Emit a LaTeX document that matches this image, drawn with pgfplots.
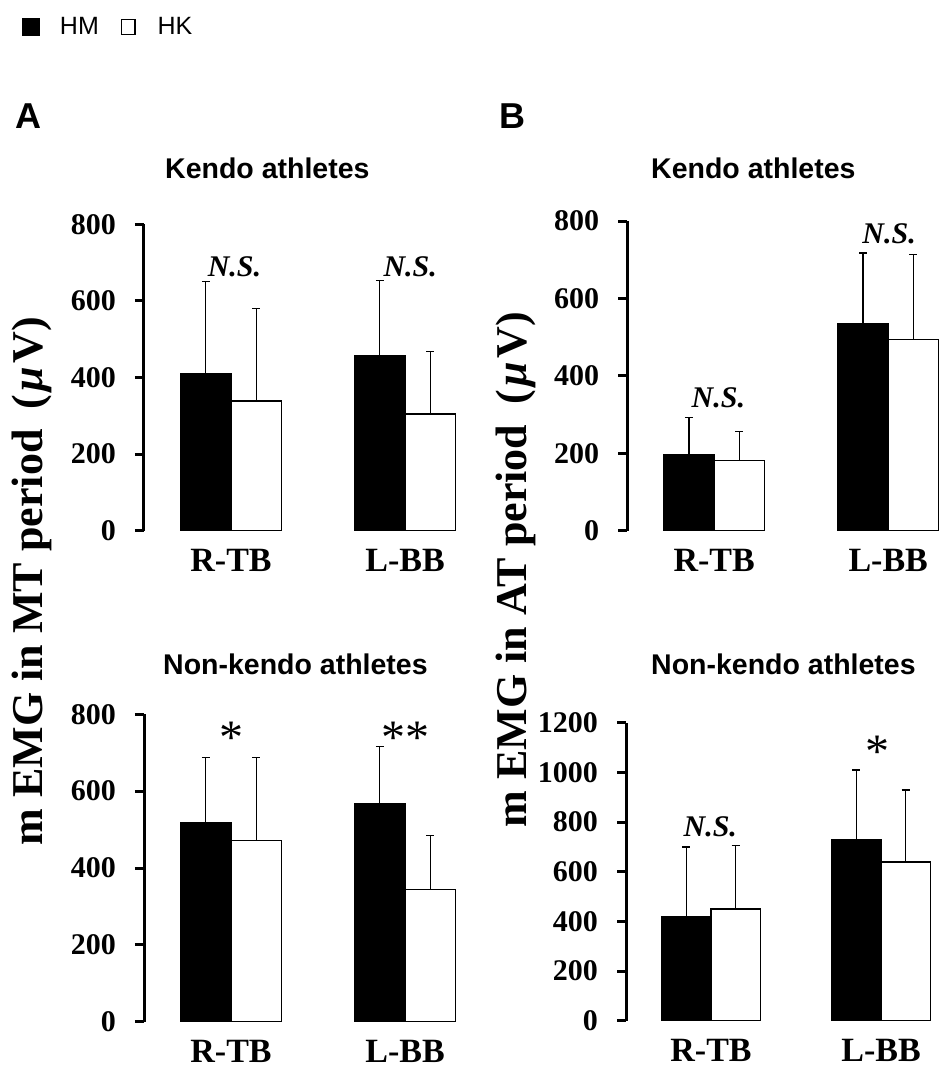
\documentclass[border=0pt]{standalone}
\usepackage{fontspec}
\setmainfont{Liberation Serif}
\newfontfamily\arial{Liberation Sans}
\usepackage{pgfplots}
\pgfplotsset{compat=1.18}
\pgfplotsset{
 panel/.style={
  scale only axis, anchor=south west,
  xmin=-0.5, xmax=1.29, ymin=0, clip=false,
  axis y line*=left, axis x line*=bottom,
  x axis line style={draw=none},
  y axis line style={line width=3pt, -},
  xtick={0,1}, xticklabels={R-TB,L-BB},
  xtick style={draw=none},
  tick align=outside,
  ytick style={line width=3pt, black},
  major tick length=9pt,
  /pgf/number format/assume math mode=true,
  /pgf/number format/1000 sep={},
  yticklabel style={font=\bfseries\fontsize{30}{36}\selectfont, inner sep=0pt, xshift=-19pt},
  xticklabel style={font=\bfseries\fontsize{34}{40}\selectfont, inner sep=0pt, yshift=-9pt},
  ybar, bar width=0.29,
 },
 errs/.style={bar shift=0pt, error bars/y dir=plus, error bars/y explicit,
   error bars/error bar style={line width=1.3pt, black},
   error bars/error mark options={rotate=90, line width=1.3pt, black, mark size=4pt}},
 hm/.style={fill=black, draw=black, line width=1pt, errs},
 hk/.style={fill=white, draw=black, line width=1.5pt, errs},
}
\tikzset{
 ns/.style={font=\bfseries\itshape\fontsize{30}{36}\selectfont, inner sep=0pt},
 st/.style={font=\fontsize{48}{54}\selectfont, inner sep=0pt},
}
\begin{document}
\begin{tikzpicture}
% ---- Panel A top
\begin{axis}[panel, at={(144pt,-530.7pt)}, width=311.5pt, height=306.4pt,
  ymax=800, ytick={0,200,...,800},
  legend style={at={(axis description cs:-0.3917,1.6439)}, anchor=west, draw=none, fill=none,
    inner sep=0pt, outer sep=0pt, legend columns=-1,
    font=\arial\fontsize{25}{30}\selectfont,
    /tikz/every even column/.append style={column sep=22pt}, nodes={inner sep=0pt}}]
\addplot[hm, legend image code/.code={\fill[black] (0pt,-8.5pt) rectangle (17pt,8.5pt); \path (37pt,0pt);}]
  coordinates {(-0.145,411) +- (0,240) (0.855,458) +- (0,196)};
\addlegendentry{HM}
\addplot[hk, legend image code/.code={\draw[draw=black, fill=white, line width=1.5pt] (0.75pt,-7.5pt) rectangle (14.25pt,7.5pt); \path (36pt,0pt);}]
  coordinates {(0.145,339) +- (0,241) (1.145,305) +- (0,162)};
\addlegendentry{HK}
\node[ns] at (axis cs:0.02,688) {N.S.};
\node[ns] at (axis cs:1.03,688) {N.S.};
\end{axis}
% ---- Panel B top
\begin{axis}[panel, at={(627.2pt,-530.7pt)}, width=311.5pt, height=309.7pt,
  ymax=800, ytick={0,200,...,800}]
\addplot[hm] coordinates {(-0.145,196) +- (0,96) (0.855,536) +- (0,181)};
\addplot[hk] coordinates {(0.145,181) +- (0,75) (1.145,494) +- (0,219)};
\node[ns] at (axis cs:0.024,343) {N.S.};
\node[ns] at (axis cs:1.005,766) {N.S.};
\end{axis}
% ---- Panel A bottom
\begin{axis}[panel, at={(144pt,-1021.7pt)}, width=311.5pt, height=307.4pt,
  ymax=800, ytick={0,200,...,800}]
\addplot[hm] coordinates {(-0.145,519) +- (0,168) (0.855,567) +- (0,149)};
\addplot[hk] coordinates {(0.145,471) +- (0,216) (1.145,344) +- (0,140)};
\node[st] at (axis cs:0,738) {*};
\node[st] at (axis cs:1,738) {**};
\end{axis}
% ---- Panel B bottom
\begin{axis}[panel, at={(626pt,-1020.7pt)}, width=304.3pt, height=298pt,
  ymax=1200, ytick={0,200,...,1200}]
\addplot[hm] coordinates {(-0.145,418) +- (0,281) (0.855,731) +- (0,279)};
\addplot[hk] coordinates {(0.145,449) +- (0,256) (1.145,640) +- (0,289)};
\node[ns] at (axis cs:-0.004,782) {N.S.};
\node[st] at (axis cs:0.98,1084) {*};
\end{axis}
% ---- texts
\node[font=\arial\bfseries\fontsize{36}{40}\selectfont, inner sep=0pt] at (28pt,-116pt) {A};
\node[font=\arial\bfseries\fontsize{36}{40}\selectfont, inner sep=0pt] at (512pt,-116pt) {B};
\node[anchor=west, font=\arial\bfseries\fontsize{28.5}{33}\selectfont, inner sep=0pt] at (165pt,-168pt) {Kendo athletes};
\node[anchor=west, font=\arial\bfseries\fontsize{28.5}{33}\selectfont, inner sep=0pt] at (651pt,-168pt) {Kendo athletes};
\node[anchor=west, font=\arial\bfseries\fontsize{28.5}{33}\selectfont, inner sep=0pt] at (163pt,-664pt) {Non-kendo athletes};
\node[anchor=west, font=\arial\bfseries\fontsize{28.5}{33}\selectfont, inner sep=0pt] at (651pt,-664pt) {Non-kendo athletes};
\node[rotate=90, font=\bfseries\fontsize{44}{50}\selectfont, inner sep=0pt] at (32pt,-581pt)
  {m EMG in MT period\hspace{20pt}(\hspace{3pt}\textit{μ}\hspace{4pt}V)};
\node[rotate=90, font=\bfseries\fontsize{44}{50}\selectfont, inner sep=0pt] at (516pt,-569.5pt)
  {m EMG in AT period\hspace{20pt}(\hspace{3pt}\textit{μ}\hspace{4pt}V)};
\pgfresetboundingbox
\path[use as bounding box] (0pt,0pt) rectangle (938pt,-1068pt);
\end{tikzpicture}
\end{document}
